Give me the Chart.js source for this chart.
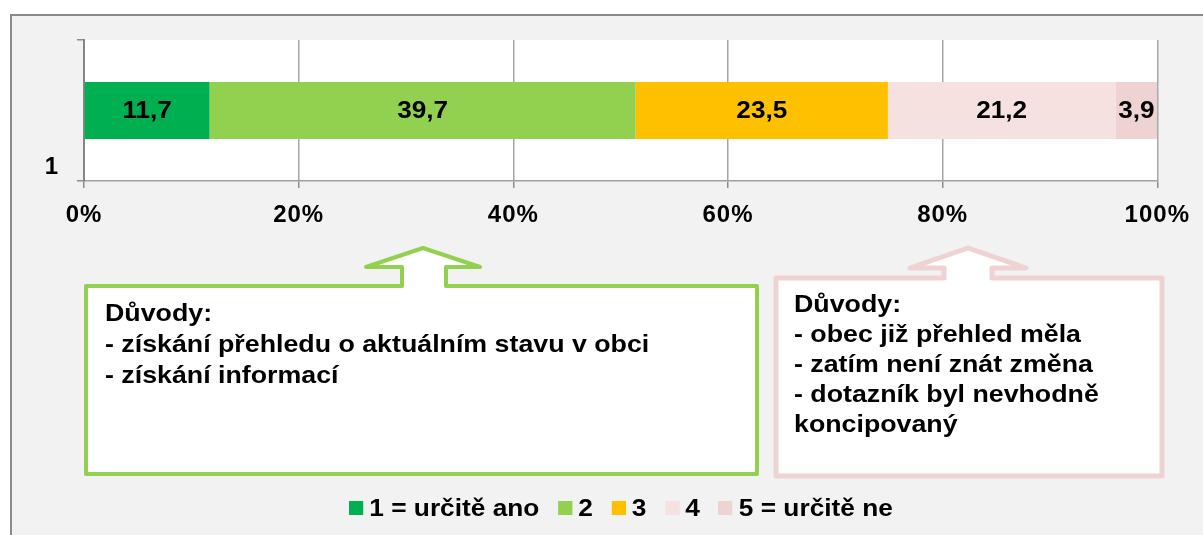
<!DOCTYPE html>
<html>
<head>
<meta charset="utf-8">
<script src="https://cdn.jsdelivr.net/npm/chart.js@4"></script>
<style>
  html, body { margin:0; padding:0; background:#ffffff; width:1203px; height:535px; overflow:hidden; }
  #frame { position:absolute; left:10px; top:14px; width:1300px; height:600px; background:#f2f2f2;
           border-left:2px solid #8a8a8a; border-top:2px solid #8a8a8a; }
  #c { position:absolute; left:0; top:0; }
  #shapes { position:absolute; left:0; top:0; }
  .txt { position:absolute; font-family:"Liberation Sans", Arial, sans-serif; font-weight:bold; font-size:24px;
         color:#000; white-space:nowrap; transform:scaleX(1.115); transform-origin:0 0; }
  #legend { position:absolute; left:349px; top:493px; height:30px; display:flex; align-items:center;
            font-family:"Liberation Sans", Arial, sans-serif; font-weight:bold; font-size:24px;
            color:#000; white-space:nowrap; transform:scaleX(1.095); transform-origin:0 0; }
  #legend .item { display:flex; align-items:center; margin-right:17px; }
  #legend .box { width:13px; height:14px; margin-right:5.5px; }
</style>
</head>
<body>
<div id="frame"></div>
<canvas id="c" width="1203" height="535"></canvas>
<svg id="shapes" width="1203" height="535"></svg>
<div id="greenTxt" class="txt" style="left:105px; top:297px; line-height:31px;"></div>
<div id="pinkTxt" class="txt" style="left:794px; top:289px; line-height:30px;"></div>
<div id="legend"></div>
<script>
// ---- data ----
const categories = ['1'];
const seriesNames = ['1 = určitě ano', '2', '3', '4', '5 = určitě ne'];
const seriesValues = [[11.7], [39.7], [23.5], [21.2], [3.9]];
const seriesColors = ['#00b050', '#92d050', '#ffc000', '#f4e1e0', '#eed3d2'];
const xTicks = [0, 20, 40, 60, 80, 100];
const greenLines = ['Důvody:', '- získání přehledu o aktuálním stavu v obci', '- získání informací'];
const pinkLines = ['Důvody:', '- obec již přehled měla', '- zatím není znát změna', '- dotazník byl nevhodně', 'koncipovaný'];

const FONT = '"Liberation Sans", Arial, sans-serif';
const LS = '1px';

const spacing = {
  id: 'spacing',
  beforeUpdate(chart) { chart.ctx.letterSpacing = LS; },
  beforeLayout(chart) { chart.ctx.letterSpacing = LS; },
  beforeDraw(chart) { chart.ctx.letterSpacing = LS; }
};
const plotBg = {
  id: 'plotBg',
  beforeDraw(chart) {
    const {ctx, chartArea:a} = chart;
    ctx.save(); ctx.fillStyle = '#ffffff';
    ctx.fillRect(a.left, a.top, a.right - a.left, a.bottom - a.top);
    ctx.restore();
  }
};
const valueLabels = {
  id: 'valueLabels',
  afterDatasetsDraw(chart) {
    const ctx = chart.ctx;
    chart.data.datasets.forEach((ds, i) => {
      chart.getDatasetMeta(i).data.forEach((el, j) => {
        const p = el.getCenterPoint();
        ctx.save();
        ctx.letterSpacing = '0px';
        ctx.font = 'bold 24px ' + FONT;
        ctx.fillStyle = '#000';
        ctx.textAlign = 'center'; ctx.textBaseline = 'middle';
        ctx.translate(p.x, p.y + 1);
        ctx.scale(1.09, 1);
        ctx.fillText(ds.data[j].toFixed(1).replace('.', ','), 0, 0);
        ctx.restore();
      });
    });
  }
};

new Chart(document.getElementById('c'), {
  type: 'bar',
  data: {
    labels: categories,
    datasets: seriesNames.map((n, i) => ({
      label: n, data: seriesValues[i], backgroundColor: seriesColors[i],
      borderWidth: 0, barPercentage: 1, categoryPercentage: 0.405
    }))
  },
  options: {
    indexAxis: 'y',
    responsive: false,
    animation: false,
    devicePixelRatio: 1,
    layout: { padding: { left: 0, top: 40, right: 45, bottom: 294 } },
    plugins: { legend: { display: false }, tooltip: { enabled: false } },
    scales: {
      x: {
        stacked: true, min: 0, max: 100,
        afterBuildTicks(s) { s.ticks = xTicks.map(v => ({ value: v })); },
        afterFit(s) { s.height = 60; },
        ticks: { callback: v => v + '%', font: { family: FONT, weight: 'bold', size: 24 }, color: '#000', padding: 13, maxRotation: 0 },
        grid: { color: '#a6a6a6', lineWidth: 1.5, tickLength: 7, tickColor: '#8c8c8c' },
        border: { display: true, color: '#a0a0a0', width: 1.5 }
      },
      y: {
        stacked: true,
        afterFit(s) { s.width = 84; },
        ticks: { font: { family: FONT, weight: 'bold', size: 24 }, color: '#000', padding: 18, labelOffset: 57 },
        grid: { drawOnChartArea: false, tickLength: 7, tickColor: '#8c8c8c', lineWidth: 1.5 },
        border: { display: true, color: '#868686', width: 2 }
      }
    }
  },
  plugins: [spacing, plotBg, valueLabels]
});

// ---- callouts ----
function calloutPath(L, T, R, B, sL, sR, hL, hR, hy, tx, ty) {
  return `M${L},${T} L${sL},${T} L${sL},${hy} L${hL},${hy} L${tx},${ty} L${hR},${hy} L${sR},${hy} L${sR},${T} L${R},${T} L${R},${B} L${L},${B} Z`;
}
const svg = document.getElementById('shapes');
svg.innerHTML =
  `<path d="${calloutPath(86, 286, 757, 474, 402, 446, 366, 480, 267, 423, 248)}" fill="#ffffff" stroke="#92d050" stroke-width="4" stroke-linejoin="round"/>` +
  `<path d="${calloutPath(776, 278, 1162, 476, 944, 992, 910, 1026, 268, 968, 248)}" fill="#ffffff" stroke="#efd3d3" stroke-width="5" stroke-linejoin="round"/>`;

document.getElementById('greenTxt').innerHTML = greenLines.join('<br>');
document.getElementById('pinkTxt').innerHTML = pinkLines.join('<br>');

const lg = document.getElementById('legend');
seriesNames.forEach((n, i) => {
  const it = document.createElement('div'); it.className = 'item';
  const b = document.createElement('div'); b.className = 'box'; b.style.background = seriesColors[i];
  const t = document.createElement('span'); t.textContent = n;
  it.appendChild(b); it.appendChild(t); lg.appendChild(it);
});
</script>
</body>
</html>
